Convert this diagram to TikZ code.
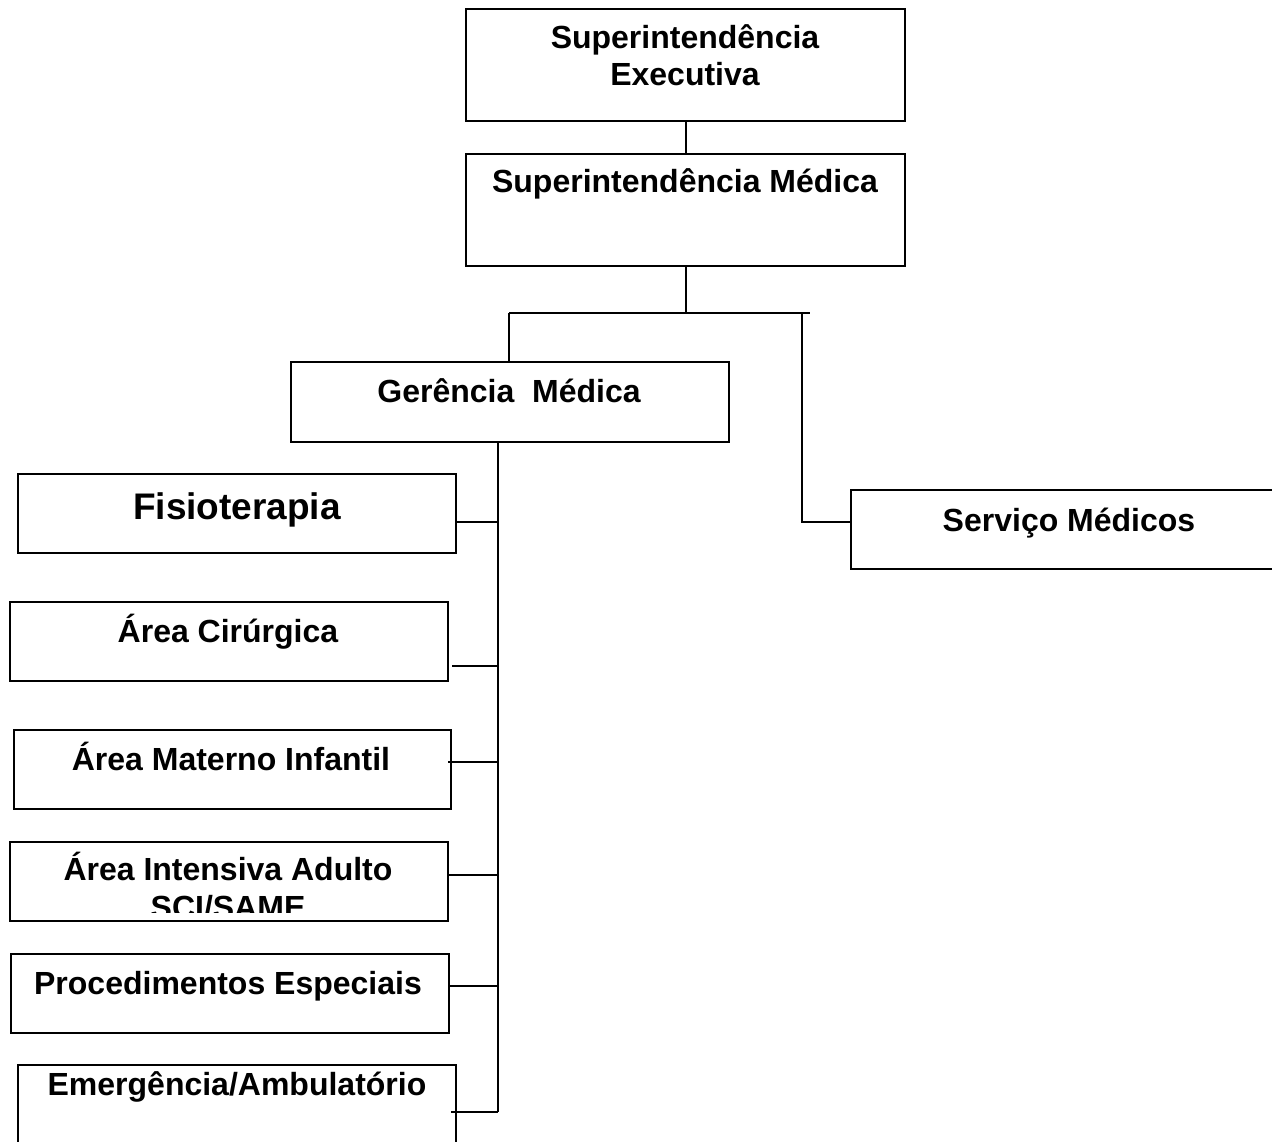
\documentclass[tikz,border=0pt]{standalone}
\usepackage{fontspec}
\setmainfont{Liberation Sans}
\begin{document}
\begin{tikzpicture}[x=1pt,y=-1pt,
  box/.style={draw,line width=2pt,inner sep=0pt,anchor=north west},
  lbl/.style={font=\bfseries\fontsize{32}{37}\selectfont,anchor=base,inner sep=0pt,align=center},
  big/.style={font=\bfseries\fontsize{37}{42}\selectfont,anchor=base,inner sep=0pt},
  con/.style={line width=2pt}]
\useasboundingbox (0,0) rectangle (1272,1142);
\begin{scope}
\clip (0,0) rectangle (1272,1142);
% boxes
\node[box,minimum width=439pt,minimum height=112pt] (se) at (465,8) {};
\node[box,minimum width=439pt,minimum height=112pt] (sm) at (465,153) {};
\node[box,minimum width=438pt,minimum height=80pt] (gm) at (290,361) {};
\node[box,minimum width=438pt,minimum height=79pt] (fis) at (17,473) {};
\node[box,minimum width=440pt,minimum height=79pt] (serv) at (850,489) {};
\node[box,minimum width=438pt,minimum height=79pt] (cir) at (9,601) {};
\node[box,minimum width=437pt,minimum height=79pt] (mat) at (13,729) {};
\node[box,minimum width=438pt,minimum height=79pt] (int) at (9,841) {};
\node[box,minimum width=438pt,minimum height=79pt] (proc) at (10,953) {};
\node[box,minimum width=438pt,minimum height=100pt] (emg) at (17,1064) {};
% texts
\node[lbl] (tse1) at (685,49) {Superintendência};
\node[lbl] (tse2) at (685,86) {Executiva};
\node[lbl] (tsm) at (685,193) {Superintendência Médica};
\node[lbl] (tgm) at (509,402) {Gerência\ \ Médica};
\node[big] (tfis) at (237,519) {Fisioterapia};
\node[lbl] (tserv) at (1069,531) {Serviço Médicos};
\node[lbl] (tcir) at (228,642) {Área Cirúrgica};
\node[lbl] (tmat) at (231,770) {Área Materno Infantil};
\node[lbl] (tint) at (228,880) {Área Intensiva Adulto};
\begin{scope}
\clip (int.north west) rectangle ([yshift=10pt]int.south east);
\node[lbl] (tint2) at (228,918) {SCI/SAME};
\end{scope}
\node[lbl] (tproc) at (228,994) {Procedimentos Especiais};
\node[lbl] (temg) at (237,1095) {Emergência/Ambulatório};
% connectors
\coordinate (bus) at (685.5,313);
\coordinate (busL) at (509,313);
\coordinate (busR) at (810,313);
\coordinate (drop) at (802,313);
\coordinate (trunk) at (498,1112);
\draw[con] (se.south -| bus) -- (sm.north -| bus);
\draw[con] (sm.south -| bus) -- (bus);
\draw[con] (busL) -- (busR);
\draw[con] (busL) -- (gm.north -| busL);
\draw[con] (drop) -- ([yshift=8pt]serv.west -| drop) -- ([yshift=8pt]serv.west);
\draw[con] (gm.south -| trunk) -- (trunk);
\draw[con] ([yshift=-8pt]fis.east) -- ([yshift=-8pt]fis.east -| trunk);
\draw[con] ([xshift=3pt,yshift=-24pt]cir.east) -- ([yshift=-24pt]cir.east -| trunk);
\draw[con] ([xshift=-4pt,yshift=8pt]mat.east) -- ([yshift=8pt]mat.east -| trunk);
\draw[con] ([yshift=7pt]int.east) -- ([yshift=7pt]int.east -| trunk);
\draw[con] ([yshift=8pt]proc.east) -- ([yshift=8pt]proc.east -| trunk);
\draw[con] ([xshift=-6pt]emg.east |- trunk) -- (trunk);
\end{scope}
\end{tikzpicture}
\end{document}
